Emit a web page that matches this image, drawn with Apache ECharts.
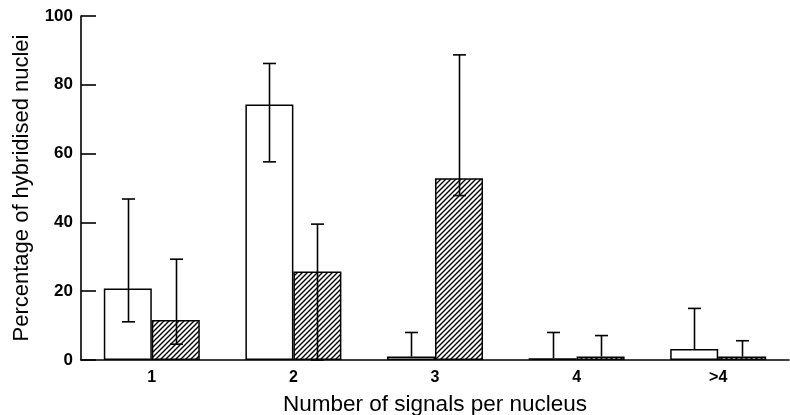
<!DOCTYPE html>
<html>
<head>
<meta charset="utf-8">
<script src="https://cdn.jsdelivr.net/npm/echarts@6/dist/echarts.min.js"></script>
<style>
html,body{margin:0;padding:0;background:#fff;}
#c{width:790px;height:415px;}
</style>
</head>
<body>
<div id="c"></div>
<script>
var categories = ['1', '2', '3', '4', '>4'];
var yTicks = [0, 20, 40, 60, 80, 100];
var plainValues = [20.8, 74.3, 1.0, 0.5, 3.2];
var hatchedValues = [11.6, 25.7, 52.8, 1.0, 1.0];
var plainHigh = [46.8, 86.2, 8.0, 8.0, 15.0];
var plainLow = [11.1, 57.6, null, null, null];
var hatchedHigh = [29.3, 39.5, 88.7, 7.1, 5.6];
var hatchedLow = [4.6, 0, 47.8, null, null];

var FONT = '"Liberation Sans", Arial, Helvetica, sans-serif';
var BAR_W = 48;

function makeHatch() {
  var s = 5;
  var cv = document.createElement('canvas');
  cv.width = s; cv.height = s;
  var ctx = cv.getContext('2d');
  ctx.fillStyle = '#fff';
  ctx.fillRect(0, 0, s, s);
  ctx.strokeStyle = '#000';
  ctx.lineWidth = 1.4;
  ctx.beginPath();
  ctx.moveTo(-1, s + 1); ctx.lineTo(s + 1, -1);
  ctx.moveTo(-1, 1); ctx.lineTo(1, -1);
  ctx.moveTo(s - 1, s + 1); ctx.lineTo(s + 1, s - 1);
  ctx.stroke();
  return cv;
}

function errorRenderer(values, highs, lows, offset) {
  return function (params, api) {
    var i = params.dataIndex;
    var top = api.coord([i, highs[i]]);
    var x = Math.round(top[0] + offset) + 0.5;
    var yTop = top[1];
    var low = lows[i];
    var yBot = api.coord([i, (low === null ? values[i] : low)])[1];
    var st = { stroke: '#000', lineWidth: 1.6 };
    var cap = 6.5;
    var children = [
      { type: 'line', shape: { x1: x, y1: yTop, x2: x, y2: yBot }, style: st },
      { type: 'line', shape: { x1: x - cap, y1: yTop, x2: x + cap, y2: yTop }, style: st }
    ];
    if (low !== null) {
      children.push({ type: 'line', shape: { x1: x - cap, y1: yBot, x2: x + cap, y2: yBot }, style: st });
    }
    return { type: 'group', children: children };
  };
}

var chart = echarts.init(document.getElementById('c'), null, { renderer: 'canvas' });
chart.setOption({
  animation: false,
  backgroundColor: '#fff',
  grid: { left: 81, right: 1, top: 16, bottom: 55, containLabel: false, outerBoundsMode: 'none' },
  xAxis: {
    type: 'category',
    data: categories,
    axisLine: { show: true, lineStyle: { color: '#000', width: 1.6 } },
    axisTick: { show: false },
    axisLabel: { color: '#000', fontFamily: FONT, fontWeight: 'bold', fontSize: 16, margin: 10 },
    name: 'Number of signals per nucleus',
    nameLocation: 'middle',
    nameGap: 33,
    nameTextStyle: { color: '#000', fontFamily: FONT, fontSize: 22.5 }
  },
  yAxis: {
    type: 'value',
    min: yTicks[0],
    max: yTicks[yTicks.length - 1],
    interval: 20,
    axisLine: { show: true, lineStyle: { color: '#000', width: 1.6 } },
    axisTick: { show: true, inside: true, length: 15, lineStyle: { color: '#000', width: 1.6 } },
    splitLine: { show: false },
    axisLabel: { color: '#000', fontFamily: FONT, fontWeight: 'bold', fontSize: 17, margin: 8 },
    name: 'Percentage of hybridised nuclei',
    nameLocation: 'middle',
    nameRotate: 90,
    nameGap: 48,
    nameTextStyle: { color: '#000', fontFamily: FONT, fontSize: 22 }
  },
  series: [
    {
      type: 'bar',
      data: plainValues,
      barWidth: BAR_W,
      barGap: '0%',
      itemStyle: { color: '#fff', borderColor: '#000', borderWidth: 1.5 },
      z: 2
    },
    {
      type: 'bar',
      data: hatchedValues,
      barWidth: BAR_W,
      barGap: '0%',
      itemStyle: { color: { image: makeHatch(), repeat: 'repeat' }, borderColor: '#000', borderWidth: 1.5 },
      z: 2
    },
    {
      type: 'custom',
      renderItem: errorRenderer(plainValues, plainHigh, plainLow, -BAR_W / 2),
      data: plainHigh.map(function (v, i) { return [i, v]; }),
      encode: { x: 0, y: 1 },
      z: 5
    },
    {
      type: 'custom',
      renderItem: errorRenderer(hatchedValues, hatchedHigh, hatchedLow, BAR_W / 2),
      data: hatchedHigh.map(function (v, i) { return [i, v]; }),
      encode: { x: 0, y: 1 },
      z: 5
    }
  ]
});
</script>
</body>
</html>
